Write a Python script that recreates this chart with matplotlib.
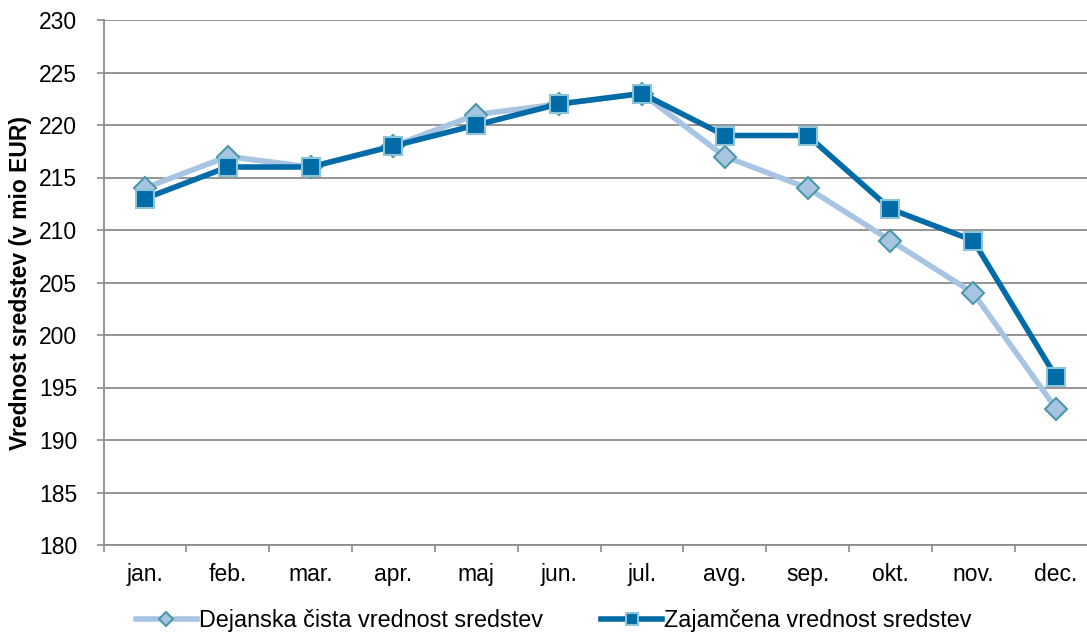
import numpy as np
import matplotlib.pyplot as plt

plt.rcParams['font.family'] = ['Liberation Sans', 'DejaVu Sans']

meseci = ['jan.', 'feb.', 'mar.', 'apr.', 'maj', 'jun.', 'jul.', 'avg.', 'sep.', 'okt.', 'nov.', 'dec.']
dejanska = [214, 217, 216, 218, 221, 222, 223, 217, 214, 209, 204, 193]
zajamcena = [213, 216, 216, 218, 220, 222, 223, 219, 219, 212, 209, 196]

fig = plt.figure(figsize=(10.87, 6.39), dpi=100)
# plot area runs a little past the right edge, as in the original
ax = fig.add_axes([103.5 / 1087, 1 - 545 / 639, 994 / 1087, 525 / 639])

x = np.arange(len(meseci))
ax.plot(x, dejanska, color='#a7c5e2', lw=4, marker='D', ms=11,
        mfc='#a7c5e2', mec='#4a98a8', mew=1.5, label='Dejanska čista vrednost sredstev', zorder=3)
ax.plot(x, zajamcena, color='#006ba6', lw=4, marker='s', ms=13,
        mfc='#006ba6', mec='#8cc4d8', mew=1.5, label='Zajamčena vrednost sredstev', zorder=4)

ax.set_xlim(-0.5, len(meseci) - 0.5)
ax.set_ylim(180, 230)
ax.set_yticks(np.arange(180, 231, 5))
ax.set_xticks(x)
ax.set_xticklabels(meseci)
ax.set_xticks(np.arange(-0.5, len(meseci), 1), minor=True)
ax.tick_params(axis='x', which='major', length=0, labelsize=16.5, pad=13, colors='black')
ax.tick_params(axis='x', which='minor', length=5, color='#8c8c8c', width=1.2)
ax.tick_params(axis='y', length=5, labelsize=16.5, color='#8c8c8c', width=1.2, pad=14)

ax.grid(axis='y', color='#8c8c8c', lw=1.3)
ax.set_axisbelow(True)
for s in ['top', 'right']:
    ax.spines[s].set_visible(False)
for s in ['left', 'bottom']:
    ax.spines[s].set_color('#8c8c8c')
    ax.spines[s].set_linewidth(1.3)

ax.set_ylabel('Vrednost sredstev (v mio EUR)', fontsize=16.5, fontweight='bold', labelpad=5)

ax.legend(loc='upper center', bbox_to_anchor=(0.453, -0.082), ncol=2, frameon=False,
          fontsize=16.8, handlelength=2.6, handletextpad=0.1, columnspacing=2.5,
          markerscale=0.65)

fig.savefig('out.png', dpi=100)
